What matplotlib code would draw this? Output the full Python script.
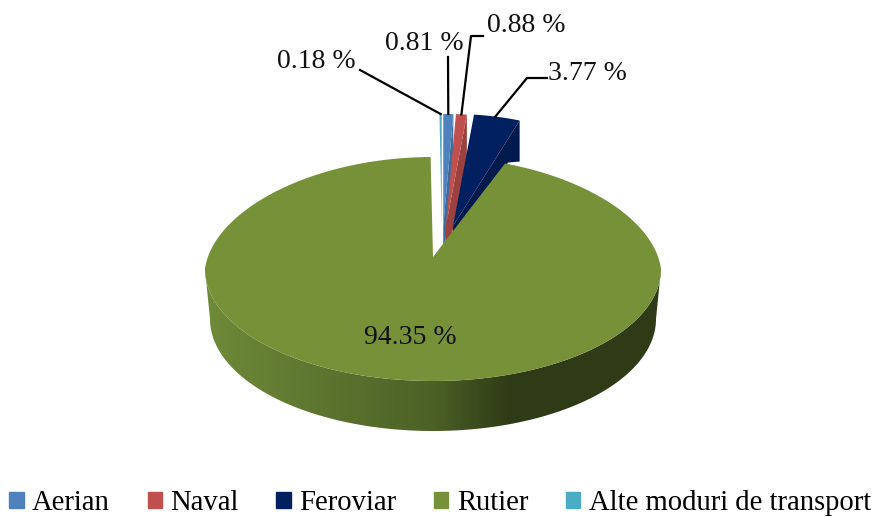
import numpy as np
import matplotlib
matplotlib.use('Agg')
import matplotlib.pyplot as plt
from matplotlib.patches import Patch, Polygon
from matplotlib.colors import LinearSegmentedColormap

plt.rcParams['font.family'] = ['Liberation Serif', 'DejaVu Serif']

categories = ['Aerian', 'Naval', 'Feroviar', 'Rutier', 'Alte moduri de transport']
shares = [0.81, 0.88, 3.77, 94.35, 0.18]
share_labels = ['0.81 %', '0.88 %', '3.77 %', '94.35 %', '0.18 %']
top_colors = ['#4f81bd', '#c0504d', '#00205f', '#779139', '#4bacc6']
face_colors = ['#3f6a9c', '#9b4240', '#001a4d', '#5c7030', '#3a8aa0']

# pie geometry in pixels
cx, cy = 433, 269
rx, ry = 228, 112
depth = 50
rx_bottom = 223
apex = (433, 257)
back_squeeze = 0.065

# exploded slices sit further back so they look narrower
back_rx, back_ry = 198, 112
back_cx, back_cy = 442, 226
back_spread = 49.5
back_depth = 41

# rim shading along x
rim_stops = [0.0, 0.5, 0.67, 1.0]
rim_colors = ['#6f8a39', '#4c6126', '#2f3b16', '#303c18']


def big_x(t):
    return cx + rx * np.sin(t) * (1 - back_squeeze * np.clip(np.cos(t), 0, None))


fig = plt.figure(figsize=(8.74, 5.17), dpi=100)
ax = fig.add_axes([0, 0, 1, 1])
ax.set_xlim(0, 874)
ax.set_ylim(517, 0)
ax.axis('off')

edges = np.cumsum([0] + shares) / sum(shares) * 360
arc_mids = {}

green_t = np.radians(np.linspace(edges[3], edges[4], 400))
green_x = big_x(green_t)
green_y = cy - ry * np.cos(green_t)

# small exploded slices
for i in [4, 0, 1, 2]:
    t0, t1 = np.radians(edges[i]), np.radians(edges[i + 1])
    mid = (t0 + t1) / 2
    ox = back_cx + back_spread * np.sin(mid)
    oy = back_cy
    t = np.linspace(t0, t1, 30)
    xs = ox + back_rx * np.sin(t)
    ys = oy - back_ry * np.cos(t)
    fx = [ox, xs[-1], xs[-1], ox]
    fy = [oy, ys[-1], ys[-1] + back_depth, oy + back_depth]
    if i == 2:
        # bottom of the cut face runs flat into the big slice
        fx.insert(3, green_x[0] + 3)
        fy.insert(3, ys[-1] + back_depth + 1)
    ax.fill(fx, fy, color=face_colors[i], lw=0)
    ax.fill(np.r_[ox, xs], np.r_[oy, ys], color=top_colors[i], lw=0)
    arc_mids[i] = (ox + back_rx * np.sin(mid), oy - back_ry * np.cos(mid))

# rim of the big slice, gradient clipped to the outline
a = np.radians(np.linspace(90, 270, 200))
rim_outline = np.c_[np.r_[cx + rx * np.sin(a), (cx + rx_bottom * np.sin(a))[::-1]],
                    np.r_[cy - ry * np.cos(a), (cy + depth - ry * np.cos(a))[::-1]]]
rim_cmap = LinearSegmentedColormap.from_list('rim', list(zip(rim_stops, rim_colors)))
grad = ax.imshow(np.linspace(0, 1, 456)[None, :], cmap=rim_cmap, aspect='auto',
                 extent=(cx - rx, cx + rx, cy + depth + ry + 2, cy - 2), zorder=2)
clip = Polygon(rim_outline, transform=ax.transData, fc='none', ec='none')
ax.add_patch(clip)
grad.set_clip_path(clip)
ax.set_xlim(0, 874)
ax.set_ylim(517, 0)

# top of the big slice
ax.fill(np.r_[apex[0], green_x], np.r_[apex[1], green_y], color=top_colors[3], lw=0, zorder=3)

# leader lines and labels
line_style = dict(color='black', lw=1.6, zorder=4)
ax.plot([448, arc_mids[0][0]], [57, arc_mids[0][1]], **line_style)
ax.plot([483, 471, arc_mids[1][0]], [36, 36, arc_mids[1][1]], **line_style)
ax.plot([547, 527, arc_mids[2][0] - 2], [78, 78, arc_mids[2][1]], **line_style)
ax.plot([360, arc_mids[4][0]], [70, arc_mids[4][1]], **line_style)

label_pos = [(424, 44), (526, 26), (587, 73), (410, 337), (316, 62)]
for text, (x, y) in zip(share_labels, label_pos):
    ax.text(x, y, text, ha='center', va='center', fontsize=20, color='#111111', zorder=5)

handles = [Patch(color=c, label=n) for c, n in zip(top_colors, categories)]
fig.legend(handles=handles, loc='lower center', ncol=5, frameon=False, fontsize=20.6,
           bbox_to_anchor=(0.5035, 0.002), handlelength=0.5, handleheight=0.5,
           handletextpad=0.3, columnspacing=1.31, borderaxespad=0, borderpad=0,
           labelspacing=0)

fig.savefig('out.png', dpi=100)
